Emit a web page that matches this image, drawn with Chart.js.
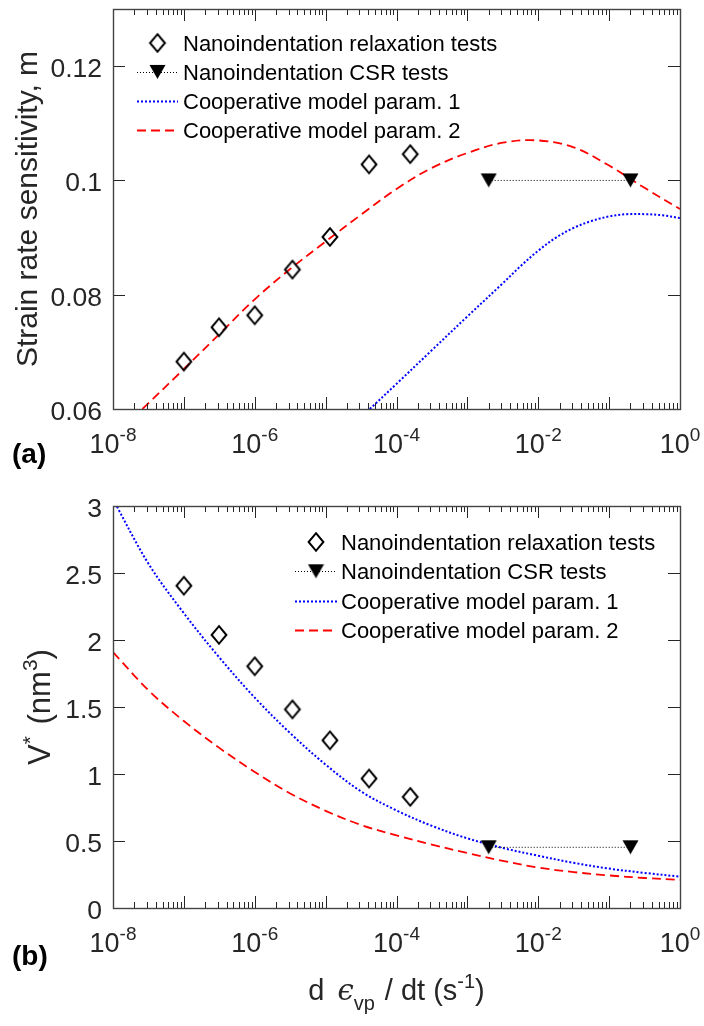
<!DOCTYPE html>
<html><head><meta charset="utf-8">
<script src="https://cdn.jsdelivr.net/npm/chart.js@4.4.1/dist/chart.umd.min.js"></script>
<style>
html,body{margin:0;padding:0;background:#fff;}
#wrap{position:relative;width:704px;height:1026px;overflow:hidden;background:#fff;}
canvas{position:absolute;left:0;}
</style></head><body>
<div id="wrap">
<canvas id="ca" width="704" height="480" style="top:0;width:704px;height:480px"></canvas>
<canvas id="cb" width="704" height="546" style="top:480px;width:704px;height:546px"></canvas>
</div>
<script>
// ---------------- data ----------------
const relaxRate = [1e-7, 3.13e-7, 1e-6, 3.4e-6, 1.15e-5, 4.1e-5, 1.56e-4];
const relaxM    = [0.0683, 0.0743, 0.0764, 0.0844, 0.0901, 0.1028, 0.1046];
const relaxV    = [2.405, 2.038, 1.804, 1.482, 1.251, 0.966, 0.829];

const csrRate = [2e-3, 0.2];
const csrM    = [0.1, 0.1];
const csrV    = [0.453, 0.453];

// model curves, panel (a)
const model1RateA = [4.2e-5, 1e-4, 3.16e-4, 1e-3, 3.16e-3, 5.62e-3, 1e-2, 1.78e-2, 3.16e-2, 5.62e-2, 0.1, 0.178, 0.316, 0.562, 1];
const model1M     = [0.060, 0.0644, 0.0703, 0.0762, 0.0820, 0.0850, 0.0877, 0.0900, 0.0917, 0.0929, 0.0937, 0.0941, 0.0941, 0.0939, 0.0934];
const model2RateA = [2.6e-8, 1e-7, 3.16e-7, 1e-6, 3.16e-6, 1e-5, 3.16e-5, 1e-4, 3.16e-4, 1e-3, 3.16e-3, 1e-2, 3.16e-2, 0.1, 0.316, 1];
const model2M     = [0.060, 0.0670, 0.0731, 0.0792, 0.0845, 0.0893, 0.0940, 0.0985, 0.1022, 0.1048, 0.1066, 0.1070, 0.1058, 0.1026, 0.0987, 0.0950];

// model curves, panel (b)
const modelRateB = [1e-8, 3.16e-8, 1e-7, 3.16e-7, 1e-6, 3.16e-6, 1e-5, 3.16e-5, 1e-4, 3.16e-4, 1e-3, 3.16e-3, 1e-2, 3.16e-2, 0.1, 0.316, 1];
const model1V    = [3.05, 2.57, 2.20, 1.87, 1.57, 1.305, 1.07, 0.87, 0.728, 0.613, 0.52, 0.448, 0.39, 0.337, 0.294, 0.262, 0.234];
const model2V    = [1.91, 1.625, 1.395, 1.195, 1.015, 0.855, 0.725, 0.62, 0.542, 0.473, 0.41, 0.352, 0.302, 0.268, 0.243, 0.224, 0.209];

const legendLabels = ['Nanoindentation relaxation tests', 'Nanoindentation CSR tests', 'Cooperative model param. 1', 'Cooperative model param. 2'];
const xTickExps = [-8, -6, -4, -2, 0];
const yTicksA = [0.06, 0.08, 0.1, 0.12];
const yTickLabelsA = ['0.06', '0.08', '0.1', '0.12'];
const yTicksB = [0, 0.5, 1, 1.5, 2, 2.5, 3];
const yTickLabelsB = ['0', '0.5', '1', '1.5', '2', '2.5', '3'];

// ---------------- markers ----------------
function makeDiamond() {
  const c = document.createElement('canvas'); c.width = 20; c.height = 22;
  const g = c.getContext('2d');
  g.strokeStyle = '#000'; g.lineWidth = 2; g.lineJoin = 'miter';
  g.beginPath(); g.moveTo(10, 2.2); g.lineTo(17.4, 11); g.lineTo(10, 19.8); g.lineTo(2.6, 11); g.closePath(); g.stroke();
  return c;
}
function makeTriangle() {
  const c = document.createElement('canvas'); c.width = 17; c.height = 16;
  const g = c.getContext('2d');
  g.fillStyle = '#000';
  g.beginPath(); g.moveTo(0.5, 1); g.lineTo(16.5, 1); g.lineTo(8.5, 15); g.closePath(); g.fill();
  return c;
}
const diamondImg = makeDiamond();
const triImg = makeTriangle();

const FONT = '"Liberation Sans", Arial, Helvetica, sans-serif';
const AXC = '#262626';

function pts(xs, ys) { return xs.map((x, i) => ({ x: x, y: ys[i] })); }

function makeDatasets(relaxY, csrY, m1x, m1y, m2x, m2y) {
  return [
    { label: legendLabels[0], data: pts(relaxRate, relaxY), showLine: false, pointStyle: diamondImg, pointRadius: 8, borderColor: '#000', backgroundColor: 'rgba(0,0,0,0)', order: 0 },
    { label: legendLabels[1], data: pts(csrRate, csrY), showLine: true, borderColor: '#000', borderWidth: 1, borderDash: [1, 2], pointStyle: triImg, pointRadius: 8, order: 1 },
    { label: legendLabels[2], data: pts(m1x, m1y), showLine: true, borderColor: '#0000ff', borderWidth: 2, borderDash: [2, 2], pointRadius: 0, tension: 0.35, order: 2 },
    { label: legendLabels[3], data: pts(m2x, m2y), showLine: true, borderColor: '#ff0000', borderWidth: 1.8, borderDash: [9, 5], pointRadius: 0, tension: 0.35, order: 3 }
  ];
}

function drawRich(ctx, pieces, x, y) {
  let total = 0;
  pieces.forEach(p => { ctx.font = p.f; p.w = ctx.measureText(p.t).width; total += p.w + (p.gap || 0); });
  let cx = x - total / 2;
  pieces.forEach(p => { ctx.font = p.f; ctx.fillText(p.t, cx, y + (p.dy || 0)); cx += p.w + (p.gap || 0); });
}

function decorPlugin(cfg) {
  return {
    id: 'decor',
    afterDraw(chart) {
      const ctx = chart.ctx, a = chart.chartArea, xs = chart.scales.x, ys = chart.scales.y;
      ctx.save();
      // ticks (inside, on all four sides)
      ctx.strokeStyle = AXC; ctx.lineWidth = 1;
      ctx.beginPath();
      const eMin = xTickExps[0], eMax = xTickExps[xTickExps.length - 1];
      for (let e = eMin; e <= eMax; e++) {
        for (let m = 1; m <= 9; m++) {
          if (e === eMax && m > 1) break;
          const px = Math.round(xs.getPixelForValue(m * Math.pow(10, e))) + 0.5;
          const len = m === 1 ? 12 : 6;
          ctx.moveTo(px, a.bottom); ctx.lineTo(px, a.bottom - len);
          ctx.moveTo(px, a.top); ctx.lineTo(px, a.top + len);
        }
      }
      cfg.yTicks.forEach(v => {
        const py = Math.round(ys.getPixelForValue(v)) + 0.5;
        ctx.moveTo(a.left, py); ctx.lineTo(a.left + 12, py);
        ctx.moveTo(a.right, py); ctx.lineTo(a.right - 12, py);
      });
      ctx.stroke();
      // box
      ctx.strokeStyle = '#444'; ctx.lineWidth = 1.4;
      ctx.strokeRect(Math.round(a.left) + 0.5, Math.round(a.top) + 0.5, Math.round(a.right - a.left), Math.round(a.bottom - a.top));

      // y tick labels
      ctx.fillStyle = AXC; ctx.textAlign = 'right'; ctx.textBaseline = 'alphabetic';
      ctx.font = '26.5px ' + FONT;
      cfg.yTicks.forEach((v, i) => {
        const py = ys.getPixelForValue(v);
        ctx.fillText(cfg.yLabels[i], a.left - 11, py + 11);
      });
      // x tick labels (10^n)
      ctx.textAlign = 'left';
      xTickExps.forEach(e => {
        const px = xs.getPixelForValue(Math.pow(10, e));
        drawRich(ctx, [
          { t: '10', f: '27px ' + FONT },
          { t: String(e), f: '19px ' + FONT, dy: -12 }
        ], px, a.bottom + 44);
      });

      // legend
      const L = cfg.legend;
      const dsets = chart.data.datasets;
      for (let i = 0; i < 4; i++) {
        const ry = L.y0 + i * L.step;
        const ds = dsets[i];
        if (ds.showLine) {
          ctx.save();
          ctx.strokeStyle = ds.borderColor; ctx.lineWidth = ds.borderWidth; ctx.setLineDash(ds.borderDash || []);
          ctx.beginPath(); ctx.moveTo(L.x1, Math.round(ry) + 0.5); ctx.lineTo(L.x2, Math.round(ry) + 0.5); ctx.stroke();
          ctx.restore();
        }
        if (ds.pointRadius > 0 && ds.pointStyle && typeof ds.pointStyle === 'object') {
          const img = ds.pointStyle;
          ctx.drawImage(img, (L.x1 + L.x2) / 2 - img.width / 2, ry - img.height / 2);
        }
        ctx.fillStyle = '#000'; ctx.font = '22px ' + FONT; ctx.textAlign = 'left';
        ctx.fillText(ds.label, L.tx, ry + 8);
      }

      // axis titles
      ctx.fillStyle = AXC; ctx.textAlign = 'left';
      ctx.save();
      ctx.translate(cfg.yTitleX, (a.top + a.bottom) / 2);
      ctx.rotate(-Math.PI / 2);
      drawRich(ctx, cfg.yTitle, 0, 0);
      ctx.restore();
      if (cfg.xTitle) drawRich(ctx, cfg.xTitle, (a.left + a.right) / 2, cfg.xTitleY);

      // panel label
      ctx.fillStyle = '#000'; ctx.font = 'bold 28px ' + FONT; ctx.textAlign = 'left';
      ctx.fillText(cfg.panel, cfg.panelX, cfg.panelY);
      ctx.restore();
    }
  };
}

function options(ymin, ymax, pad) {
  return {
    responsive: false, maintainAspectRatio: false, animation: false, events: [],
    layout: { padding: pad },
    plugins: { legend: { display: false }, tooltip: { enabled: false } },
    scales: {
      x: { type: 'logarithmic', min: 1e-8, max: 1, display: false },
      y: { type: 'linear', min: ymin, max: ymax, display: false }
    }
  };
}

new Chart(document.getElementById('ca'), {
  type: 'scatter',
  data: { datasets: makeDatasets(relaxM, csrM, model1RateA, model1M, model2RateA, model2M) },
  options: options(0.06, 0.13, { left: 113, right: 24, top: 5, bottom: 71 }),
  plugins: [decorPlugin({
    yTicks: yTicksA, yLabels: yTickLabelsA,
    legend: { y0: 43, step: 28.9, x1: 137, x2: 178, tx: 183 },
    yTitleX: 37,
    yTitle: [{ t: 'Strain rate sensitivity, m', f: '30px ' + FONT }],
    panel: '(a)', panelX: 12, panelY: 463
  })]
});

new Chart(document.getElementById('cb'), {
  type: 'scatter',
  data: { datasets: makeDatasets(relaxV, csrV, modelRateB, model1V, modelRateB, model2V) },
  options: options(0, 3, { left: 113, right: 24, top: 26, bottom: 118 }),
  plugins: [decorPlugin({
    yTicks: yTicksB, yLabels: yTickLabelsB,
    legend: { y0: 62, step: 29.3, x1: 295, x2: 337, tx: 341 },
    yTitleX: 50,
    yTitle: [
      { t: 'V', f: '31px ' + FONT },
      { t: '*', f: '21px ' + FONT, dy: -13, gap: 3 },
      { t: ' (nm', f: '31px ' + FONT },
      { t: '3', f: '21px ' + FONT, dy: -13 },
      { t: ')', f: '31px ' + FONT }
    ],
    xTitleY: 520,
    xTitle: [
      { t: 'd ', f: '29px ' + FONT, gap: 5 },
      { t: 'ϵ', f: 'italic 29px "DejaVu Serif", serif' },
      { t: 'vp', f: '20px ' + FONT, dy: 10, gap: 2 },
      { t: ' / dt (s', f: '29px ' + FONT },
      { t: '-1', f: '20px ' + FONT, dy: -12 },
      { t: ')', f: '29px ' + FONT }
    ],
    panel: '(b)', panelX: 12, panelY: 485
  })]
});
</script>
</body></html>
